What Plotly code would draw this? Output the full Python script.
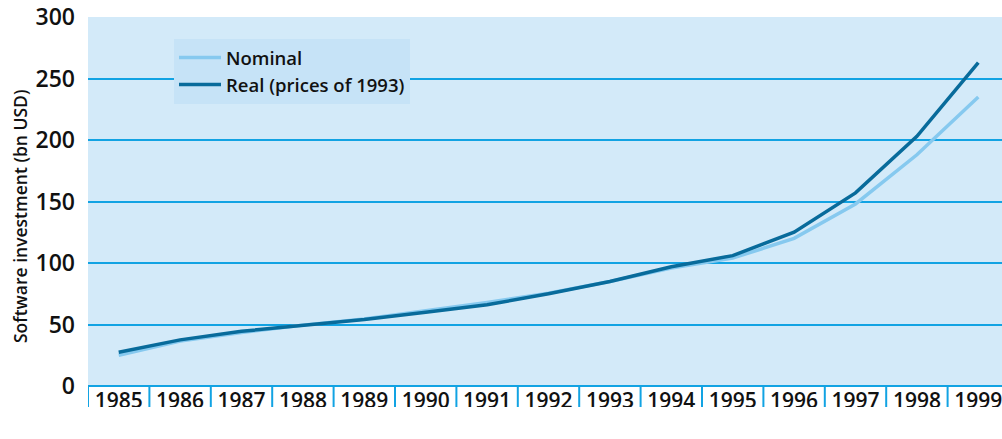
import plotly.graph_objects as go

years = ["1985", "1986", "1987", "1988", "1989", "1990", "1991", "1992",
         "1993", "1994", "1995", "1996", "1997", "1998", "1999"]
nominal = [25, 36.5, 43.5, 49.5, 54.5, 61, 68, 75.5, 85, 96, 104, 120, 148, 188, 235]
real = [27.5, 37.5, 44.5, 49.5, 54, 60, 66, 75, 85, 97, 106, 125, 157, 203, 263]
y_ticks = [0, 50, 100, 150, 200, 250, 300]

GRID = "#12a3e3"
BG = "#d3eaf9"
FONT = "Open Sans"

x_idx = list(range(len(years)))

fig = go.Figure()
fig.add_trace(go.Scatter(x=x_idx, y=nominal, name="Nominal", mode="lines",
                         line=dict(color="#86c9ef", width=3.5)))
fig.add_trace(go.Scatter(x=x_idx, y=real, name="Real (prices of 1993)", mode="lines",
                         line=dict(color="#086b9b", width=3.5)))

H_PLOT = 386 - 17
W_PLOT = 914
shapes = []
box_bottom = -(407 - 386) / H_PLOT
for i in range(len(years) + 1):
    shapes.append(dict(type="line", xref="x", yref="paper", x0=i - 0.5, x1=i - 0.5,
                       y0=0, y1=box_bottom, line=dict(color=GRID, width=2)))
# crop at bottom like the reference
shapes.append(dict(type="rect", xref="paper", yref="paper", x0=-0.2, x1=1.1,
                   y0=box_bottom, y1=-0.5, fillcolor="white", line=dict(width=0),
                   layer="above"))

fig.update_layout(
    width=1002, height=439,
    margin=dict(l=88, r=0, t=17, b=439 - 386),
    paper_bgcolor="white", plot_bgcolor=BG,
    font=dict(family=FONT, color="#111111"),
    showlegend=True,
    legend=dict(x=(174 - 88) / W_PLOT, y=1 - (39 - 17) / H_PLOT, xanchor="left", yanchor="top",
                bgcolor="#c6e3f7", borderwidth=0,
                font=dict(family=FONT, size=18.5, color="#111111", weight=600),
                itemwidth=42, tracegroupgap=0),
    xaxis=dict(range=[-0.5, -0.5 + W_PLOT / 61.4], tickmode="array", tickvals=x_idx,
               ticktext=years, showgrid=False, zeroline=False, showline=False,
               automargin=False, ticklabeloverflow="allow",
               ticks="", tickfont=dict(family=FONT, size=21, weight=600, color="#111111")),
    yaxis=dict(range=[0, 300], tickmode="array", tickvals=y_ticks,
               showgrid=True, gridcolor=GRID, gridwidth=2,
               zeroline=True, zerolinecolor=GRID, zerolinewidth=2,
               showline=False, ticks="", ticklabelstandoff=12, automargin=False,
               tickfont=dict(family=FONT, size=23, weight=600, color="#111111")),
    annotations=[dict(text="Software investment (bn USD)", textangle=-90,
                      xref="paper", yref="paper", x=(20 - 88) / W_PLOT,
                      y=1 - (216 - 17) / H_PLOT, xanchor="center", yanchor="middle",
                      showarrow=False,
                      font=dict(family=FONT, size=17.5, weight=600, color="#111111"))],
    shapes=shapes,
)

fig.write_html("out.html", config={"displayModeBar": False},
               post_script="document.body.style.margin='0';document.body.style.overflow='hidden';")
